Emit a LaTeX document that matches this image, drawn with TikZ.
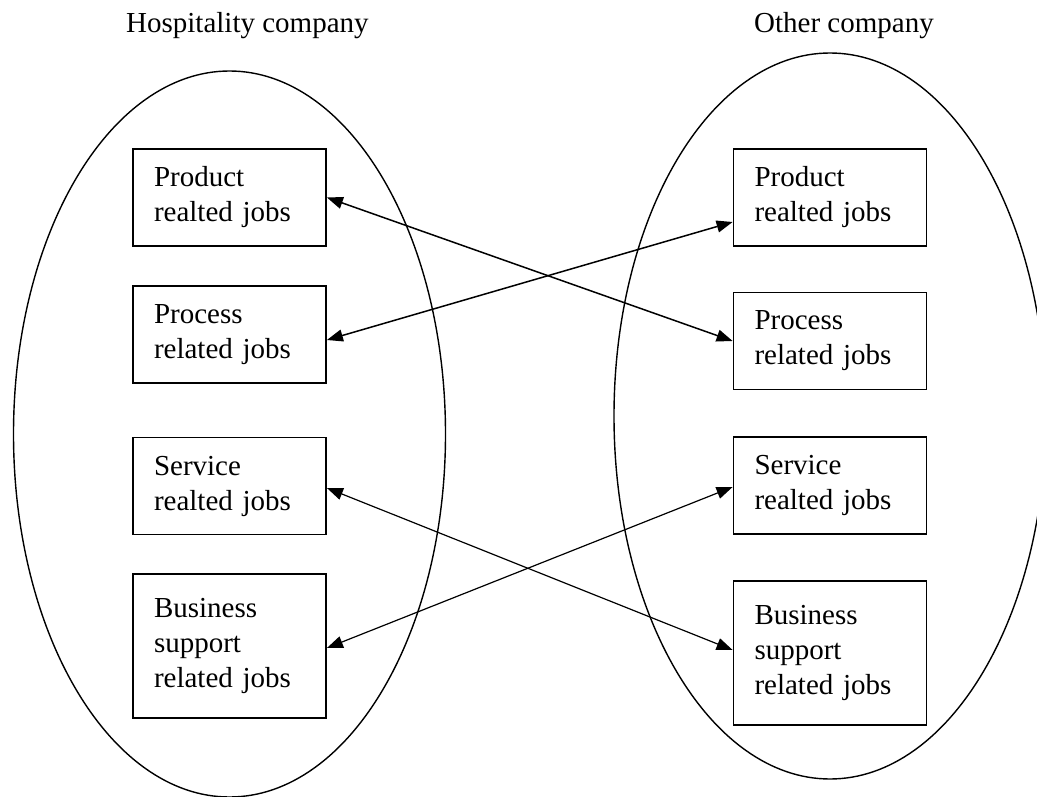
\documentclass[tikz,border=0pt]{standalone}
\usepackage{fontspec}
\setmainfont{Liberation Serif}
\usetikzlibrary{arrows.meta}
\begin{document}
\begin{tikzpicture}[x=1pt,y=-1pt,
  every node/.style={font=\fontsize{29}{35}\selectfont},
  jobbox/.style={draw,line width=1.8pt,rectangle,text width=151pt,inner xsep=21pt,inner ysep=0pt,align=left,minimum height=97pt},
  tallbox/.style={jobbox,minimum height=144pt},
  company/.style={line width=1.4pt},
  link/.style={line width=1.5pt,{Triangle[length=16pt,width=12pt]}-{Triangle[length=16pt,width=12pt]}}]
\useasboundingbox (0,0) rectangle (1037,797);

% the two companies
\draw[company] (229.5,434) ellipse [x radius=216pt, y radius=363pt];
\draw[company] (830,416) ellipse [x radius=216pt, y radius=363pt];
\node[anchor=base west,inner sep=0pt] (hosp) at (126,33) {Hospitality company};
\node[anchor=base west,inner sep=0pt] (other) at (754,33) {Other company};

% jobs in the hospitality company
\node[jobbox] (lb1) at (229.5,197.5) {Product\\realted jobs};
\node[jobbox] (lb2) at (229.5,334.5) {Process\\related jobs};
\node[jobbox] (lb3) at (229.5,486) {Service\\realted jobs};
\node[tallbox] (lb4) at (229.5,646) {Business\\support\\related jobs};

% jobs in the other company
\node[jobbox] (rb1) at (830,197.5) {Product\\realted jobs};
\node[jobbox] (rb2) at (830,341) {Process\\related jobs};
\node[jobbox] (rb3) at (830,485.5) {Service\\realted jobs};
\node[tallbox] (rb4) at (830,653) {Business\\support\\related jobs};

% links between the job groups
\draw[link] (lb1.east) -- (rb2.west);
\draw[link] ([yshift=-5.5pt]lb2.east) -- ([yshift=-24.5pt]rb1.west);
\draw[link,line width=1.2pt] ([yshift=-2pt]lb3.east) -- ([yshift=3pt]rb4.west);
\draw[link,line width=1.2pt] ([yshift=-2pt]lb4.east) -- ([yshift=-1.5pt]rb3.west);
\end{tikzpicture}
\end{document}
